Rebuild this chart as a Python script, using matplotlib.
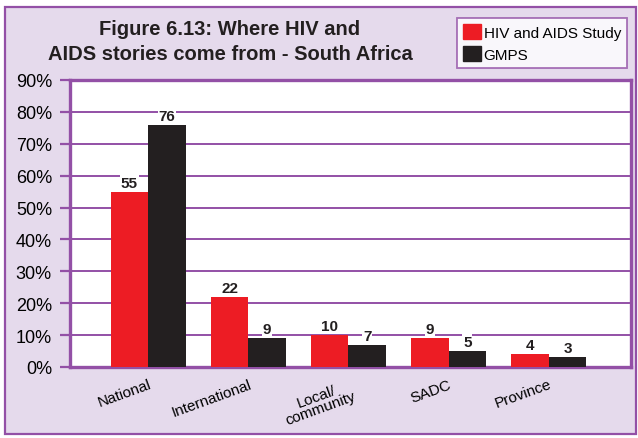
import matplotlib
matplotlib.use("Agg")
import matplotlib.pyplot as plt
import numpy as np
from matplotlib.patches import Rectangle

categories = ["National", "International", "Local/\ncommunity", "SADC", "Province"]
hiv_aids_study = [55, 22, 10, 9, 4]
gmps = [76, 9, 7, 5, 3]
series_names = ["HIV and AIDS Study", "GMPS"]
y_ticks = [0, 10, 20, 30, 40, 50, 60, 70, 80, 90]

RED = "#ED1C24"
BLACK = "#231F20"
PURPLE = "#9350A6"
LAVENDER = "#E5DAEC"

plt.rcParams["font.family"] = ["Liberation Sans", "DejaVu Sans"]

W, H = 638, 439
fig = plt.figure(figsize=(W / 100, H / 100), dpi=100)
fig.patch.set_facecolor("white")

# Lavender panel with purple frame
fig.patches.append(Rectangle((5 / W, 4 / H), 631 / W, 427 / H,
                             transform=fig.transFigure, facecolor=LAVENDER,
                             edgecolor=PURPLE, linewidth=1.6, zorder=-10))

ax_left, ax_right, ax_top, ax_bottom = 70, 631, 81, 368
ax = fig.add_axes([ax_left / W, (H - ax_bottom) / H,
                   (ax_right - ax_left) / W, (ax_bottom - ax_top) / H])
ax.set_facecolor("white")

x = np.arange(len(categories))
w = 0.375
ax.bar(x - w / 2, hiv_aids_study, width=w, color=RED, zorder=3)
ax.bar(x + w / 2, gmps, width=w, color=BLACK, zorder=3)

for xs, vals in ((x - w / 2, hiv_aids_study), (x + w / 2, gmps)):
    for xi, v in zip(xs, vals):
        ax.annotate(f"{v}", (xi, v), xytext=(0, 1.5), textcoords="offset points",
                    ha="center", va="bottom", fontsize=11, fontweight="bold",
                    color=BLACK, zorder=4,
                    bbox=dict(facecolor="white", edgecolor="none", pad=0.6))

ax.set_xlim(-0.78, 4.82)
ax.set_ylim(0, 90)
ax.set_yticks(y_ticks)
ax.set_yticklabels([f"{t}%" for t in y_ticks], fontsize=13)
ax.tick_params(axis="y", length=7, width=1.6, color=PURPLE, pad=6)
ax.yaxis.grid(True, color=PURPLE, linewidth=1.4, zorder=0)
ax.set_axisbelow(True)

ax.set_xticks(x)
ax.set_xticklabels(categories, rotation=20, fontsize=11, ha="right", va="top",
                   rotation_mode="anchor", linespacing=0.9, multialignment="center")
ax.tick_params(axis="x", length=0, pad=7)

for s in ax.spines.values():
    s.set_color(PURPLE)
    s.set_linewidth(2.4)

fig.text(230 / W, 1 - 42 / H,
         "Figure 6.13: Where HIV and\nAIDS stories come from - South Africa",
         ha="center", va="center", fontsize=14.5, fontweight="bold",
         color=BLACK, linespacing=1.4)

handles = [Rectangle((0, 0), 1, 1, color=RED), Rectangle((0, 0), 1, 1, color=BLACK)]
leg = fig.legend(handles, series_names, loc="upper left",
                 bbox_to_anchor=(457 / W, 1 - 19 / H), fontsize=11,
                 frameon=True, fancybox=False, handlelength=1.15, handleheight=1.15,
                 handletextpad=0.2, labelspacing=0.4, borderpad=0.4,
                 borderaxespad=0)
leg.get_frame().set_edgecolor(PURPLE)
leg.get_frame().set_linewidth(1.3)
leg.get_frame().set_facecolor("white")

fig.savefig("out.png", dpi=100)
